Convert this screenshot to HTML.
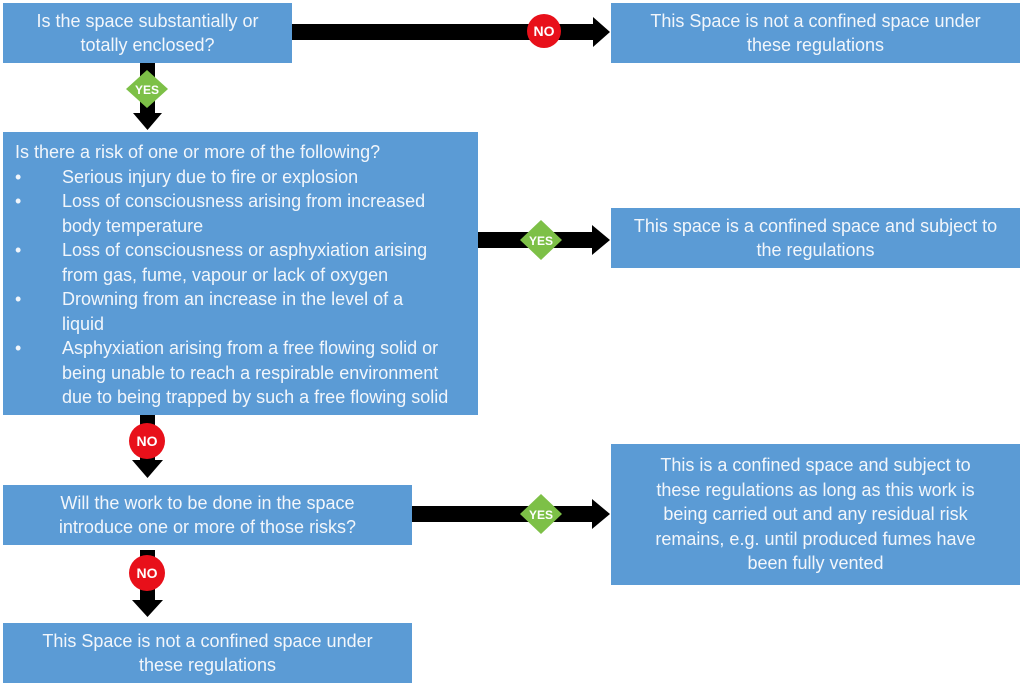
<!DOCTYPE html>
<html><head><meta charset="utf-8"><style>
body{margin:0;width:1024px;height:691px;background:#fff;position:relative;overflow:hidden;font-family:"Liberation Sans",sans-serif;}
.b{position:absolute;background:#5b9bd5;color:#f2f6fb;font-size:18px;line-height:24.5px;text-align:center;display:flex;align-items:center;justify-content:center;box-sizing:border-box;white-space:nowrap;}
.big{position:absolute;left:3px;top:132px;width:475px;height:283px;background:#5b9bd5;color:#f2f6fb;font-size:18px;line-height:24.5px;box-sizing:border-box;padding:8px 0 0 12px;white-space:nowrap;}
.big .li{position:relative;padding-left:47px;}
.big .li:before{content:"•";position:absolute;left:0;}
svg{position:absolute;left:0;top:0;}
</style></head><body>
<div class="b" style="left:3px;top:3px;width:289px;height:60px;">Is the space substantially or<br>totally enclosed?</div>
<div class="b" style="left:611px;top:3px;width:409px;height:60px;">This Space is not a confined space under<br>these regulations</div>
<div class="big">Is there a risk of one or more of the following?
<div class="li">Serious injury due to fire or explosion</div>
<div class="li">Loss of consciousness arising from increased<br>body temperature</div>
<div class="li">Loss of consciousness or asphyxiation arising<br>from gas, fume, vapour or lack of oxygen</div>
<div class="li">Drowning from an increase in the level of a<br>liquid</div>
<div class="li">Asphyxiation arising from a free flowing solid or<br>being unable to reach a respirable environment<br>due to being trapped by such a free flowing solid</div>
</div>
<div class="b" style="left:611px;top:208px;width:409px;height:60px;">This space is a confined space and subject to<br>the regulations</div>
<div class="b" style="left:3px;top:485px;width:409px;height:60px;">Will the work to be done in the space<br>introduce one or more of those risks?</div>
<div class="b" style="left:611px;top:444px;width:409px;height:141px;">This is a confined space and subject to<br>these regulations as long as this work is<br>being carried out and any residual risk<br>remains, e.g. until produced fumes have<br>been fully vented</div>
<div class="b" style="left:3px;top:623px;width:409px;height:60px;">This Space is not a confined space under<br>these regulations</div>
<svg width="1024" height="691" font-family="Liberation Sans,sans-serif" font-weight="bold" font-size="13" text-anchor="middle">
<polygon points="292,24 593,24 593,17 610,32 593,47 593,40 292,40" fill="#000"/>
<circle cx="544" cy="31" r="17" fill="#e8101a"/><text x="544" y="36" fill="#fff" font-size="14">NO</text>
<polygon points="140,63 155,63 155,113 162,113 147.5,130 133,113 140,113" fill="#000"/>
<polygon points="147,70 168,89 147,108 126,89" fill="#7dc047"/><text x="147" y="94" fill="#fff" font-size="12">YES</text>
<polygon points="478,232 592,232 592,225 610,240 592,255 592,248 478,248" fill="#000"/>
<polygon points="541,220 562,240 541,260 520,240" fill="#7dc047"/><text x="541" y="245" fill="#fff" font-size="12">YES</text>
<polygon points="140,415 155,415 155,460 163,460 147.5,478 132,460 140,460" fill="#000"/>
<circle cx="147" cy="441" r="18" fill="#e8101a"/><text x="147" y="446" fill="#fff" font-size="14">NO</text>
<polygon points="412,506 592,506 592,499 610,514 592,529 592,522 412,522" fill="#000"/>
<polygon points="541,494 562,514 541,534 520,514" fill="#7dc047"/><text x="541" y="519" fill="#fff" font-size="12">YES</text>
<polygon points="140,550 155,550 155,600 163,600 147.5,617 132,600 140,600" fill="#000"/>
<circle cx="147" cy="573" r="18" fill="#e8101a"/><text x="147" y="578" fill="#fff" font-size="14">NO</text>
</svg>
</body></html>
